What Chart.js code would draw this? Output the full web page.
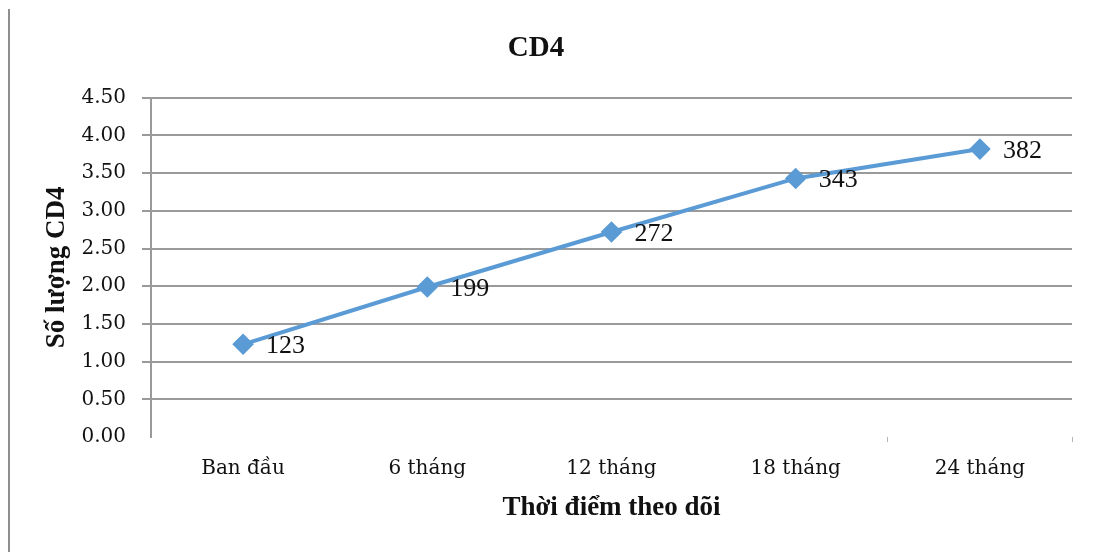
<!DOCTYPE html>
<html lang="vi">
<head>
<meta charset="utf-8">
<title>CD4</title>
<script src="https://cdn.jsdelivr.net/npm/chart.js@4/dist/chart.umd.min.js"></script>
<style>
  html, body { margin: 0; padding: 0; background: #fff; }
  #wrap { position: relative; width: 1096px; height: 552px; }
  #edge { position: absolute; left: 8px; top: 9px; width: 2px; height: 543px; background: #8f8f8f; }
  canvas { display: block; }
</style>
</head>
<body>
<div id="wrap">
  <canvas id="chart" width="1096" height="552"></canvas>
  <div id="edge"></div>
</div>
<script>
// Follow-up time points and mean CD4 count at each
const categories = ['Ban đầu', '6 tháng', '12 tháng', '18 tháng', '24 tháng'];
const cd4Values = [123, 199, 272, 343, 382];
const yTicks = [0, 50, 100, 150, 200, 250, 300, 350, 400, 450];

const chartTitle = 'CD4';
const xTitle = 'Thời điểm theo dõi';
const yTitle = 'Số lượng CD4';

const lineColor = '#5b9bd5';
const gridColor = '#9a9a9a';

// Writes each point's value just to the right of its marker
const valueLabels = {
  id: 'valueLabels',
  afterDatasetsDraw(chart) {
    const ctx = chart.ctx;
    const meta = chart.getDatasetMeta(0);
    ctx.save();
    ctx.font = '26px "Liberation Serif", "Times New Roman", serif';
    ctx.fillStyle = '#111';
    ctx.textAlign = 'left';
    ctx.textBaseline = 'middle';
    meta.data.forEach((pt, i) => {
      ctx.fillText(String(chart.data.datasets[0].data[i]), pt.x + 23, pt.y + 2);
    });
    ctx.restore();
  }
};

new Chart(document.getElementById('chart'), {
  type: 'line',
  data: {
    labels: categories,
    datasets: [{
      data: cd4Values,
      borderColor: lineColor,
      backgroundColor: lineColor,
      borderWidth: 4,
      pointStyle: 'rectRot',
      pointRadius: 8,
      pointHoverRadius: 8,
      pointBackgroundColor: lineColor,
      pointBorderColor: lineColor,
      tension: 0,
      fill: false
    }]
  },
  options: {
    responsive: false,
    animation: false,
    layout: { padding: { left: 0, right: 24, top: 0, bottom: 0 } },
    plugins: {
      legend: { display: false },
      tooltip: { enabled: false },
      title: {
        display: true,
        text: chartTitle,
        color: '#111',
        font: { family: '"Liberation Serif", "Times New Roman", serif', size: 29, weight: 'bold', lineHeight: 1.2 },
        padding: { top: 31, bottom: 32 }
      }
    },
    scales: {
      x: {
        type: 'category',
        offset: true,
        border: { display: false },
        grid: {
          offset: true,
          drawOnChartArea: false,
          drawTicks: true,
          tickLength: 5,
          // only the two right-hand category separators show as faint ticks
          color: ctx => (ctx.index === undefined || ctx.index >= 4 ? '#b5b5b5' : 'rgba(0,0,0,0)'),
          lineWidth: 1
        },
        ticks: {
          color: '#111',
          padding: 15,
          font: { family: '"DejaVu Serif", serif', size: 20 },
          maxRotation: 0
        },
        title: {
          display: true,
          text: xTitle,
          color: '#111',
          font: { family: '"Liberation Serif", "Times New Roman", serif', size: 27, weight: 'bold', lineHeight: 1.2 },
          padding: { top: 0, bottom: 28 }
        },
        afterFit(scale) { scale.height = 115; }
      },
      y: {
        min: 0,
        max: 450,
        afterBuildTicks(scale) { scale.ticks = yTicks.map(v => ({ value: v })); },
        border: { display: true, color: gridColor, width: 2 },
        grid: {
          color: ctx => (ctx.tick && ctx.tick.value === 0 ? 'rgba(0,0,0,0)' : gridColor),
          lineWidth: 2,
          drawTicks: true,
          tickLength: 9
        },
        ticks: {
          color: '#111',
          padding: 16,
          font: { family: '"DejaVu Serif", serif', size: 20 },
          callback: v => (v / 100).toFixed(2)
        },
        title: {
          display: true,
          text: yTitle,
          color: '#111',
          font: { family: '"Liberation Serif", "Times New Roman", serif', size: 27, weight: 'bold', lineHeight: 1.2 },
          padding: { top: 41, bottom: 0 }
        },
        afterFit(scale) { scale.width = 151; }
      }
    }
  },
  plugins: [valueLabels]
});
</script>
</body>
</html>
